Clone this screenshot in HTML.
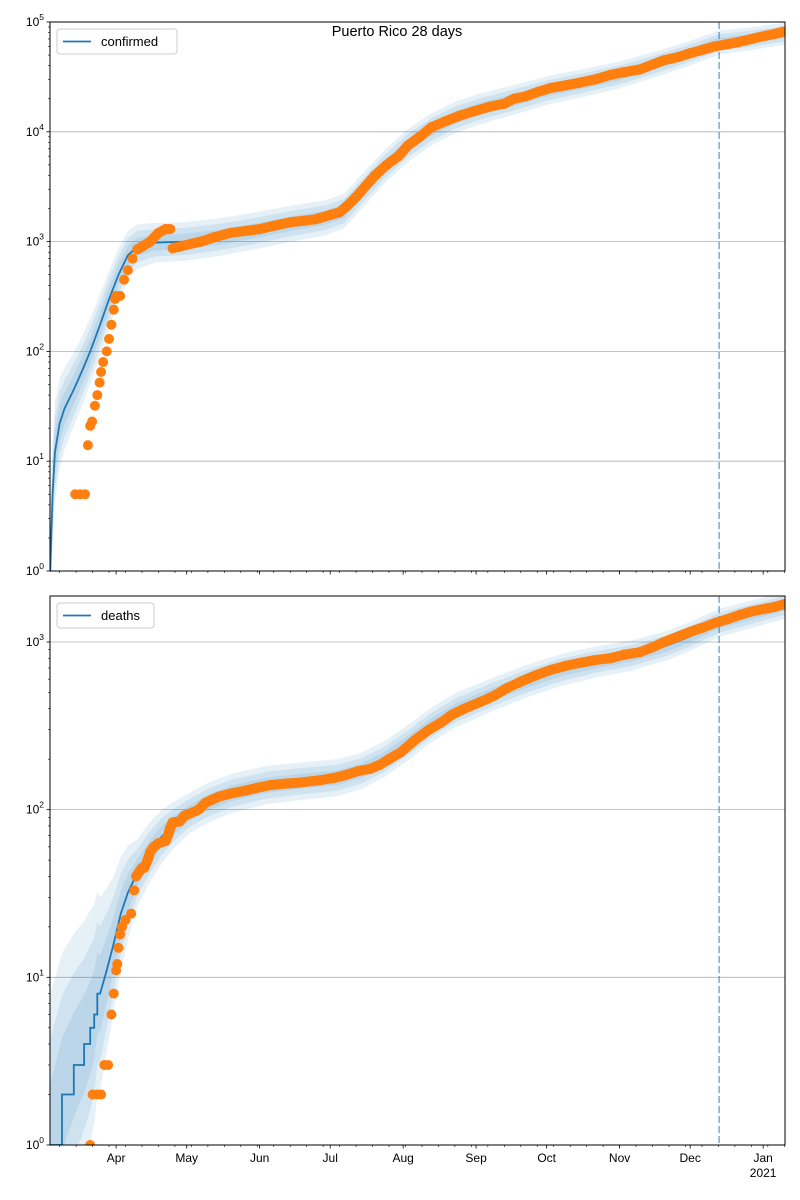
<!DOCTYPE html>
<html><head><meta charset="utf-8"><style>
html,body{margin:0;padding:0;background:#fff;width:800px;height:1200px;overflow:hidden;}
svg{display:block;font-family:"Liberation Sans","DejaVu Sans",sans-serif;}
</style></head><body>
<svg id="fig" width="800" height="1200" xmlns="http://www.w3.org/2000/svg">
<rect width="800" height="1200" fill="#fff"/>
<text x="397" y="36" font-size="14.5" text-anchor="middle">Puerto Rico 28 days</text>
</svg>
<script>
// days since 2020-03-01
const confDays=[13.6,15.7,17.8,19,20,20.8,22,23,24,24.6,25.5,27,28,29,30,30.6,31,32.7,34.4,36,38,40,42,45.5,49,52,54,55,58,62.5,67,73,79.5,86,92,98.6,105,111,116,122,126,129,132.6,137,141,146,151,155,160,165,171,177,183.6,190,196,200,205,210,215.5,222,228,234.6,241,247,253.7,259,264,270,275,280.5,285.6,291,296,301,307,311,315];
const confVals=[5,5,5,14,21,23,32,40,52,65,80,100,130,175,240,300,320,320,450,550,700,850,900,1000,1200,1300,1300,870,900,950,1000,1100,1200,1250,1300,1400,1500,1550,1600,1750,1850,2100,2500,3200,4000,5000,6000,7500,9000,11000,12500,14000,15500,17000,18000,20000,21000,23000,25000,26500,28000,30000,33000,35000,37000,41000,45000,48000,52000,56000,60000,63000,66000,70000,75000,78000,82000];
const confModelDays=[3,4,5,7,9,13,17,20,24,28,32,36,40,48,60,75,90,105,120,128,135,145,155,165,175,185,200,215,230,245,260,275,287.3,300,315];
const confModelVals=[1,5,12,22,30,45,70,100,170,300,500,750,900,980,1000,1100,1250,1450,1650,1900,2800,4800,7500,10500,13500,16000,19500,24000,28000,33000,41000,52000,65000,70000,78000];
const confSpreadDays=[3,10,30,45,120,315];
const confSpread=[0.5,0.35,0.25,0.18,0.16,0.1];
const deathDays=[20,21,23,24.6,26,27.6,29,30,31,31.5,32,32.7,33.5,35,37.4,38.7,39.5,41,42,43,44.6,45.5,47,49,52,53,54,55,58,60,62.5,66,69,72,75,80,86,91,96.5,103,109,118,124,128,134,139,143,147,152,158,164,169,174,179,186,192,197,203,209,215.5,222,228,234.6,241,247,253.7,259,264,270,275,280.5,285.6,291,296,301,307,311,315];
const deathVals=[1,2,2,2,3,3,6,8,11,12,15,18,20,22,24,33,40,43,45,45,51,56,60,63,65,70,78,84,85,92,95,100,110,115,120,125,130,135,140,143,145,150,155,160,170,175,185,200,220,260,300,330,370,400,440,480,530,580,630,680,720,750,780,800,840,870,930,1000,1080,1150,1220,1300,1370,1450,1520,1580,1620,1680];
const deathModelDays=[3,8,13,17.4,20,21.7,23,24.2,27,30,33,36,40,45,50,55,62,70,80,95,110,125,135,145,155,165,175,190,205,220,235,250,265,275,287.3,300,315];
const deathModelVals=[1,2,3,4,5,6,8,8,11,16,24,32,42,55,68,80,95,110,125,140,148,155,170,200,250,320,390,480,580,680,760,830,950,1080,1300,1450,1650];
const deathSpreadDays=[3,20,30,40,60,315];
const deathSpread=[0.9,0.7,0.4,0.2,0.12,0.08];
const monthDays=[31,61,92,122,153,184,214,245,275,306];
const monthLabels=["Apr","May","Jun","Jul","Aug","Sep","Oct","Nov","Dec","Jan"];
const forecastDay=287.3;

const NS="http://www.w3.org/2000/svg";
const svg=document.getElementById('fig');
const X0=50,X1=785,D0=2.9,D1=315.3;
function xs(d){return X0+(d-D0)/(D1-D0)*(X1-X0);}
function mk(tag,attrs,parent){const e=document.createElementNS(NS,tag);for(const k in attrs)e.setAttribute(k,attrs[k]);(parent||svg).appendChild(e);return e;}
function interp(ds,vs,d){if(d<=ds[0])return vs[0];for(let i=1;i<ds.length;i++){if(d<=ds[i]){const t=(d-ds[i-1])/(ds[i]-ds[i-1]);return vs[i-1]+t*(vs[i]-vs[i-1]);}}return vs[vs.length-1];}

function panel(cfg){
  const {top,bot,lmin,lmax,name}=cfg;
  const ys=v=>bot-(Math.log10(Math.max(v,1e-9))-lmin)/(lmax-lmin)*(bot-top);
  const g=mk('g',{});
  
  
  const cid='clip-'+name;
  const cp=mk('clipPath',{id:cid},g);mk('rect',{x:X0,y:top,width:X1-X0,height:bot-top},cp);
  for(let p=Math.ceil(lmin);p<=Math.floor(lmax);p++){
    const gl=mk('line',{x1:X0,x2:X1,y1:ys(10**p),y2:ys(10**p),stroke:'#b0b0b0','stroke-width':0.8},g);
    
    
  }
  const inner=mk('g',{'clip-path':'url(#'+cid+')'},g);
  const mults=[1,0.7,0.4];
  mults.forEach((m,bi)=>{
    let up=[],lo=[];
    for(let i=0;i<cfg.mDays.length;i++){
      const d=cfg.mDays[i],v=cfg.mVals[i];
      const s=interp(cfg.sDays,cfg.sVals,d)*m;
      const vu=Math.log10(v)+s,vl=Math.log10(v)-s;
      up.push(xs(d).toFixed(1)+','+ys(10**vu).toFixed(1));
      lo.unshift(xs(d).toFixed(1)+','+ys(10**vl).toFixed(1));
    }
    const b=mk('polygon',{points:up.concat(lo).join(' '),fill:'rgba(31,119,180,0.11)'},inner);
    
    
  });
  let pts=[];
  for(let i=0;i<cfg.mDays.length;i++){
    const d=cfg.mDays[i];if(d>forecastDay)break;
    const x=xs(d).toFixed(1),y=ys(cfg.mVals[i]).toFixed(1);
    if(cfg.step&&i>0&&d<25){pts.push(x+','+ys(cfg.mVals[i-1]).toFixed(1));}
    pts.push(x+','+y);
  }
  const ml=mk('polyline',{points:pts.join(' '),fill:'none',stroke:'#1f77b4','stroke-width':1.8},inner);
  
  
  const fl=mk('line',{x1:xs(forecastDay),x2:xs(forecastDay),y1:top,y2:bot,stroke:'#1f77b4','stroke-opacity':0.6,'stroke-width':1.5,'stroke-dasharray':'7,3'},inner);
  
  
  for(let i=1;i<cfg.oDays.length;i++){
    if(cfg.oVals[i]>=cfg.oVals[i-1]&&cfg.oDays[i]-cfg.oDays[i-1]<12&&cfg.oDays[i]>40){
      mk('line',{x1:xs(cfg.oDays[i-1]),y1:ys(cfg.oVals[i-1]),x2:xs(cfg.oDays[i]),y2:ys(cfg.oVals[i]),stroke:'#ff7f0e','stroke-width':10,'stroke-linecap':'round'},inner);
    }
  }
  for(let i=0;i<cfg.oDays.length;i++){
    const c=mk('circle',{cx:xs(cfg.oDays[i]),cy:ys(cfg.oVals[i]),r:5,fill:'#ff7f0e'},inner);
    
    
  }
  mk('rect',{x:X0,y:top,width:X1-X0,height:bot-top,fill:'none',stroke:'#000','stroke-width':1},g);
  for(let p=Math.floor(lmin);p<=Math.ceil(lmax);p++){
    for(let k=1;k<10;k++){
      const v=k*10**p;if(Math.log10(v)<lmin-1e-9||Math.log10(v)>lmax+1e-9)continue;
      const y=ys(v);
      mk('line',{x1:X0,x2:X0-(k===1?3.5:2),y1:y,y2:y,stroke:'#000','stroke-width':k===1?0.8:0.6},g);
      if(k===1){
        const t=mk('text',{x:X0-6,y:y+4,'font-size':12,'text-anchor':'end'},g);
        
        
        t.textContent='10';
        const s=mk('tspan',{dy:-6,'font-size':8.5},t);s.textContent=String(p);
      }
    }
  }
  for(let d=0;d<=D1;d+=7){if(d<D0)continue;mk('line',{x1:xs(d),x2:xs(d),y1:bot,y2:bot+2,stroke:'#000','stroke-width':0.6},g);}
  monthDays.forEach((d,i)=>{
    mk('line',{x1:xs(d),x2:xs(d),y1:bot,y2:bot+3.5,stroke:'#000','stroke-width':0.8},g);
    if(cfg.labels){
      const t=mk('text',{x:xs(d),y:bot+17,'font-size':12,'text-anchor':'middle'},g);
      
      
      t.textContent=monthLabels[i];
      if(monthLabels[i]==='Jan'){const t2=mk('text',{x:xs(d),y:bot+32,'font-size':12,'text-anchor':'middle'},g);t2.textContent='2021';
        
        }
    }
  });
  const lg=mk('g',{},g);
  
  
  const w=cfg.legendW;
  mk('rect',{x:57,y:top+7,width:w,height:25,rx:3,fill:'#fff','fill-opacity':0.8,stroke:'#ccc'},lg);
  mk('line',{x1:63,x2:91,y1:top+19.5,y2:top+19.5,stroke:'#1f77b4','stroke-width':1.8},lg);
  const lt=mk('text',{x:101,y:top+24,'font-size':13},lg);lt.textContent=name;
}
panel({name:'confirmed',top:22,bot:571,lmin:0,lmax:5,oDays:confDays,oVals:confVals,mDays:confModelDays,mVals:confModelVals,sDays:confSpreadDays,sVals:confSpread,labels:false,legendW:120,step:false});
panel({name:'deaths',top:596,bot:1145,lmin:0,lmax:Math.log10(1880),oDays:deathDays,oVals:deathVals,mDays:deathModelDays,mVals:deathModelVals,sDays:deathSpreadDays,sVals:deathSpread,labels:true,legendW:97,step:true});
</script>
</body></html>
